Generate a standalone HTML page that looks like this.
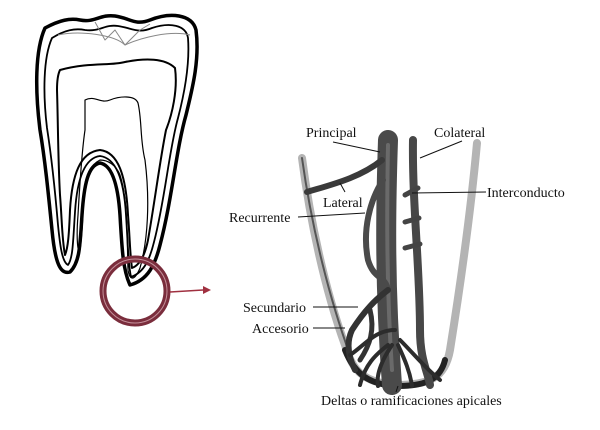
<!DOCTYPE html>
<html><head><meta charset="utf-8"><style>
html,body{margin:0;padding:0;background:#fff;}
svg{display:block;}
text{font-family:"Liberation Serif",serif;font-size:14px;fill:#111;}
</style></head><body>
<svg width="600" height="430" viewBox="0 0 600 430" xmlns="http://www.w3.org/2000/svg">
<rect width="600" height="430" fill="#fff"/>
<!-- Tooth -->
<g fill="none" stroke="#000" stroke-linejoin="round">
<path d="M45,28 C60,20 70,18 80,20 C95,23 100,14 115,16 C130,18 135,26 150,20 C170,12 192,14 196,30 C200,60 192,90 186,115 C176,150 172,200 160,245 C155,265 148,280 130,285 C123,270 122,250 120,215 C118,185 112,165 100,163 C88,165 84,185 82,215 C80,245 80,262 70,272 C60,275 55,262 52,230 C48,190 45,160 40,130 C35,90 35,50 45,28 Z" stroke-width="3.5"/>
<path d="M52,38 C65,30 75,28 85,30 C100,32 105,24 118,26 C132,28 138,34 152,28 C170,22 186,25 188,38 C190,65 184,95 178,118 C169,150 165,200 154,242 C150,258 145,272 131,277 C128,262 128,245 126,215 C124,180 116,158 100,156 C84,158 77,180 75,212 C73,242 73,258 68,265 C62,262 60,245 58,225 C55,190 52,160 47,128 C43,95 43,58 52,38 Z" stroke-width="1.8"/>
<path d="M58,35 C80,30 115,35 125,45 C140,38 170,30 190,35" stroke="#888" stroke-width="1"/>
<path d="M95,22 L105,40 L115,30 L125,45 L140,30 L150,24" stroke="#888" stroke-width="1"/>
<path d="M60,70 C90,62 110,66 125,62 C145,58 165,58 175,68 C178,90 172,115 166,130 C160,160 155,200 148,240 C145,255 140,265 132,268 C130,255 130,240 128,215 C126,175 118,152 100,150 C80,152 72,175 70,210 C69,235 68,248 65,255 C62,240 62,220 60,195 C58,160 58,120 57,90 C57,80 58,74 60,70 Z" stroke-width="2"/>
<path d="M85,100 C95,95 100,104 110,100 C120,96 135,95 138,103 C142,120 140,140 145,160 C150,200 148,240 140,268 C135,280 130,282 128,270 C127,240 128,200 120,175 C116,165 108,160 100,160 C90,165 86,175 84,190 C83,205 83,230 80,250 C78,255 76,240 78,215 C80,180 82,150 85,130 Z" stroke-width="1.2"/>
</g>
<circle cx="135" cy="291" r="32" fill="none" stroke="#7a2d3c" stroke-width="7"/>
<circle cx="135" cy="291" r="32" fill="none" stroke="#c4909a" stroke-width="1"/>
<line x1="170" y1="292" x2="203" y2="290" stroke="#a03040" stroke-width="1.5"/>
<polygon points="203,286 211,290 203,294" fill="#a03040"/>
<!-- Root section -->
<g fill="none" stroke-linecap="round">
<path d="M302,158 C310,220 325,290 345,345 C352,368 360,382 395,385 C430,385 445,378 450,350 C458,300 470,220 477,143" stroke="#b4b4b4" stroke-width="8"/>
<path d="M302,158 C312,230 330,300 350,355" stroke="#555" stroke-width="2"/>
<path d="M345,350 C355,375 370,385 398,386 C425,386 440,380 445,360" stroke="#222" stroke-width="6"/>
<path d="M388,140 C386,200 384,280 392,385" stroke="#4a4a4a" stroke-width="20"/>
<path d="M388,145 C387,200 386,280 392,370" stroke="#6a6a6a" stroke-width="4"/>
<path d="M413,140 C412,200 420,270 420,330 C420,360 428,372 430,385" stroke="#474747" stroke-width="8"/>
<path d="M307,192 C330,185 360,178 382,160" stroke="#3a3a3a" stroke-width="6"/>
<path d="M383,180 C370,200 362,230 368,260 C374,280 385,275 388,290" stroke="#4a4a4a" stroke-width="6"/>
<path d="M388,290 C375,300 365,310 352,330 C345,345 350,360 355,370" stroke="#333" stroke-width="6"/>
<path d="M370,310 C375,330 370,345 360,360" stroke="#333" stroke-width="5"/>
<path d="M405,195 L418,188 M405,222 L419,218 M405,248 L420,244" stroke="#444" stroke-width="5"/>
<path d="M388,345 C375,355 365,365 360,385 M392,345 C382,360 376,375 378,386 M398,345 C405,360 410,372 412,386 M400,340 C415,355 425,368 440,380 M395,330 C375,330 365,345 350,355" stroke="#2c2c2c" stroke-width="4"/>
</g>
<g stroke="#111" stroke-width="1" fill="none">
<line x1="333" y1="142" x2="380" y2="152"/>
<line x1="462" y1="141" x2="420" y2="158"/>
<line x1="345" y1="192" x2="340" y2="183"/>
<line x1="486" y1="192" x2="412" y2="193"/>
<line x1="298" y1="217" x2="365" y2="213"/>
<line x1="313" y1="307" x2="358" y2="307"/>
<line x1="313" y1="328" x2="345" y2="328"/>
<line x1="398" y1="386" x2="396" y2="392"/>
</g>
<text x="306" y="137">Principal</text>
<text x="434" y="137">Colateral</text>
<text x="487" y="197">Interconducto</text>
<text x="323" y="207">Lateral</text>
<text x="229" y="222">Recurrente</text>
<text x="243" y="312">Secundario</text>
<text x="252" y="333">Accesorio</text>
<text x="321" y="405">Deltas o ramificaciones apicales</text>
</svg>
</body></html>
